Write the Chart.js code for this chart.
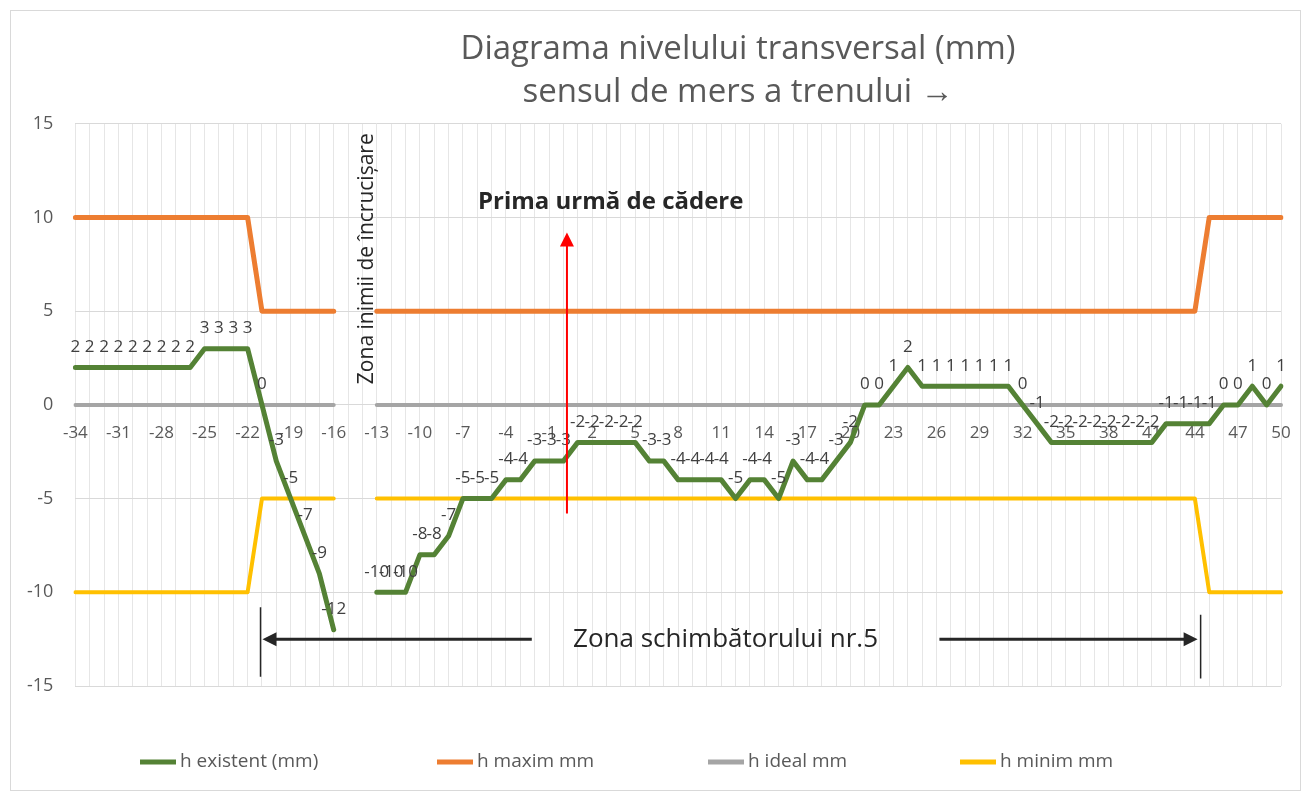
<!DOCTYPE html>
<html lang="ro">
<head>
    <meta charset="UTF-8">
    <title>Diagrama nivelului transversal</title>
    <script src="https://cdn.jsdelivr.net/npm/chart.js"></script>
    <style>
        body {
            margin: 0;
            background: #fff;
            font-family: 'Open Sans', sans-serif;
        }
        .chart-container {
            position: relative;
            width: 1309px;
            height: 795px;
        }
        .frame {
            position: absolute;
            left: 10px;
            top: 10px;
            width: 1289px;
            height: 779px;
            border: 1px solid #d9d9d9;
            pointer-events: none;
        }
    </style>
</head>
<body>
    <div class="chart-container">
        <canvas id="levelChart"></canvas>
        <div class="frame"></div>
    </div>

    <script>
        // distanta fata de punctul de referinta
        const categories = [
            -34, -33, -32, -31, -30, -29, -28, -27, -26, -25, -24, -23, -22, -21, -20, -19, -18, -17, -16, -15, -14,
            -13, -12, -11, -10, -9, -8, -7, -6, -5, -4, -3, -2, -1, 0, 1, 2, 3, 4, 5, 6, 7, 8, 9, 10,
            11, 12, 13, 14, 15, 16, 17, 18, 19, 20, 21, 22, 23, 24, 25, 26, 27, 28, 29, 30,
            31, 32, 33, 34, 35, 36, 37, 38, 39, 40, 41, 42, 43, 44, 45, 46, 47, 48, 49, 50
        ];

        const hExistent = [
            2, 2, 2, 2, 2, 2, 2, 2, 2, 3, 3, 3, 3, 0, -3, -5, -7, -9, -12, null, null,
            -10, -10, -10, -8, -8, -7, -5, -5, -5, -4, -4, -3, -3, -3, -2, -2, -2, -2, -2, -3, -3, -4, -4, -4,
            -4, -5, -4, -4, -5, -3, -4, -4, -3, -2, 0, 0, 1, 2, 1, 1, 1, 1, 1, 1,
            1, 0, -1, -2, -2, -2, -2, -2, -2, -2, -2, -1, -1, -1, -1, 0, 0, 1, 0, 1
        ];

        const hMaxim = [
            10, 10, 10, 10, 10, 10, 10, 10, 10, 10, 10, 10, 10, 5, 5, 5, 5, 5, 5, null, null,
            5, 5, 5, 5, 5, 5, 5, 5, 5, 5, 5, 5, 5, 5, 5, 5, 5, 5, 5, 5, 5, 5, 5, 5,
            5, 5, 5, 5, 5, 5, 5, 5, 5, 5, 5, 5, 5, 5, 5, 5, 5, 5, 5, 5,
            5, 5, 5, 5, 5, 5, 5, 5, 5, 5, 5, 5, 5, 5, 10, 10, 10, 10, 10, 10
        ];

        const hIdeal = [
            0, 0, 0, 0, 0, 0, 0, 0, 0, 0, 0, 0, 0, 0, 0, 0, 0, 0, 0, null, null,
            0, 0, 0, 0, 0, 0, 0, 0, 0, 0, 0, 0, 0, 0, 0, 0, 0, 0, 0, 0, 0, 0, 0, 0,
            0, 0, 0, 0, 0, 0, 0, 0, 0, 0, 0, 0, 0, 0, 0, 0, 0, 0, 0, 0,
            0, 0, 0, 0, 0, 0, 0, 0, 0, 0, 0, 0, 0, 0, 0, 0, 0, 0, 0, 0
        ];

        const hMinim = [
            -10, -10, -10, -10, -10, -10, -10, -10, -10, -10, -10, -10, -10, -5, -5, -5, -5, -5, -5, null, null,
            -5, -5, -5, -5, -5, -5, -5, -5, -5, -5, -5, -5, -5, -5, -5, -5, -5, -5, -5, -5, -5, -5, -5, -5,
            -5, -5, -5, -5, -5, -5, -5, -5, -5, -5, -5, -5, -5, -5, -5, -5, -5, -5, -5, -5,
            -5, -5, -5, -5, -5, -5, -5, -5, -5, -5, -5, -5, -5, -5, -10, -10, -10, -10, -10, -10
        ];

        const xTickLabels = [-34, -31, -28, -25, -22, -19, -16, -13, -10, -7, -4, -1, 2, 5, 8, 11, 14, 17, 20, 23, 26, 29, 32, 35, 38, 41, 44, 47, 50];
        const yTickLabels = [-15, -10, -5, 0, 5, 10, 15];

        const FONT = "'Open Sans', sans-serif";
        const idx = v => categories.indexOf(v);

        // etichetele valorilor pentru h existent
        const pointLabels = {
            id: 'pointLabels',
            afterDatasetsDraw(chart) {
                const ctx = chart.ctx;
                const meta = chart.getDatasetMeta(0);
                ctx.save();
                ctx.font = '17px ' + FONT;
                ctx.fillStyle = '#404040';
                ctx.textAlign = 'center';
                ctx.textBaseline = 'bottom';
                meta.data.forEach((pt, i) => {
                    if (hExistent[i] === null) return;
                    ctx.fillText(String(hExistent[i]), pt.x, pt.y - 12);
                });
                ctx.restore();
            }
        };

        function arrowHead(ctx, x, y, dir, size) {
            // dir: unghiul in radiani spre care arata varful
            ctx.beginPath();
            ctx.moveTo(x, y);
            ctx.lineTo(x - size * Math.cos(dir) + size * 0.5 * Math.sin(dir), y - size * Math.sin(dir) - size * 0.5 * Math.cos(dir));
            ctx.lineTo(x - size * Math.cos(dir) - size * 0.5 * Math.sin(dir), y - size * Math.sin(dir) + size * 0.5 * Math.cos(dir));
            ctx.closePath();
            ctx.fill();
        }

        // adnotari: sageti si texte
        const notes = {
            id: 'notes',
            afterDatasetsDraw(chart) {
                const ctx = chart.ctx;
                const xs = chart.scales.x, ys = chart.scales.y;
                const X = v => xs.getPixelForValue(v);
                const Y = v => ys.getPixelForValue(v);
                ctx.save();

                // prima urma de cadere
                const ax = X(idx(0) + 0.25);
                ctx.strokeStyle = '#ff0000';
                ctx.fillStyle = '#ff0000';
                ctx.lineWidth = 2;
                ctx.beginPath();
                ctx.moveTo(ax, Y(-5.8));
                ctx.lineTo(ax, Y(8.6));
                ctx.stroke();
                arrowHead(ctx, ax, Y(9.2), -Math.PI / 2, 14);

                ctx.fillStyle = '#262626';
                ctx.font = 'bold 24px ' + FONT;
                ctx.textAlign = 'center';
                ctx.textBaseline = 'middle';
                ctx.fillText('Prima urmă de cădere', X(idx(3) + 0.3), Y(10.8));

                // zona inimii
                ctx.save();
                ctx.translate(X(idx(-14) + 0.3), Y(7.8));
                ctx.rotate(-Math.PI / 2);
                ctx.font = '21px ' + FONT;
                ctx.fillText('Zona inimii de încrucișare', 0, 0);
                ctx.restore();

                // zona schimbatorului
                const yA = Y(-12.5);
                const left = X(idx(-21) - 0.1);
                const right = X(idx(44) + 0.4);
                ctx.strokeStyle = '#262626';
                ctx.fillStyle = '#262626';
                ctx.lineWidth = 1.5;
                ctx.beginPath();
                ctx.moveTo(left, Y(-10.8));
                ctx.lineTo(left, Y(-14.5));
                ctx.moveTo(right, Y(-11.2));
                ctx.lineTo(right, Y(-14.6));
                ctx.stroke();

                ctx.lineWidth = 3;
                ctx.beginPath();
                ctx.moveTo(X(idx(-3) + 0.8), yA);
                ctx.lineTo(left + 12, yA);
                ctx.moveTo(X(idx(26) + 0.2), yA);
                ctx.lineTo(right - 12, yA);
                ctx.stroke();
                arrowHead(ctx, left + 2, yA, Math.PI, 14);
                arrowHead(ctx, right - 3, yA, 0, 14);

                ctx.font = '26px ' + FONT;
                ctx.fillText('Zona schimbătorului nr.5', X(idx(11) + 0.3), yA);

                ctx.restore();
            }
        };

        // legenda desenata separat, pe sloturi ca in Excel
        const legendSlots = [140, 437, 708, 960];
        const legendRow = {
            id: 'legendRow',
            afterDraw(chart) {
                const ctx = chart.ctx;
                const y = chart.chartArea.bottom + 76;
                ctx.save();
                ctx.font = '19px ' + FONT;
                ctx.textBaseline = 'middle';
                ctx.textAlign = 'left';
                chart.data.datasets.forEach((ds, i) => {
                    const x0 = legendSlots[i];
                    ctx.strokeStyle = ds.borderColor;
                    ctx.lineWidth = 5;
                    ctx.beginPath();
                    ctx.moveTo(x0, y);
                    ctx.lineTo(x0 + 36, y);
                    ctx.stroke();
                    ctx.fillStyle = '#595959';
                    ctx.fillText(ds.label, x0 + 40, y);
                });
                ctx.restore();
            }
        };

        // titlul este centrat peste zona graficului, ca in original
        const titleShift = {
            id: 'titleShift',
            afterLayout(chart) {
                if (chart.titleBlock) {
                    chart.titleBlock.left += 95;
                    chart.titleBlock.right += 95;
                }
            }
        };

        const ctx = document.getElementById('levelChart').getContext('2d');
        new Chart(ctx, {
            type: 'line',
            data: {
                labels: categories,
                datasets: [
                    { label: 'h existent (mm)', data: hExistent, borderColor: '#548235', backgroundColor: '#548235', borderWidth: 5 },
                    { label: 'h maxim mm', data: hMaxim, borderColor: '#ed7d31', backgroundColor: '#ed7d31', borderWidth: 5 },
                    { label: 'h ideal mm', data: hIdeal, borderColor: '#a5a5a5', backgroundColor: '#a5a5a5', borderWidth: 4 },
                    { label: 'h minim mm', data: hMinim, borderColor: '#ffc000', backgroundColor: '#ffc000', borderWidth: 4 }
                ]
            },
            options: {
                responsive: true,
                maintainAspectRatio: false,
                animation: false,
                elements: {
                    point: { radius: 0, hoverRadius: 0 },
                    line: { tension: 0, borderJoinStyle: 'round', borderCapStyle: 'round' }
                },
                layout: { padding: { left: 5, right: 28, top: 0, bottom: 109 } },
                plugins: {
                    title: {
                        display: true,
                        text: ['Diagrama nivelului transversal (mm)', 'sensul de mers a trenului →'],
                        color: '#595959',
                        font: { family: FONT, size: 33, weight: 'normal', lineHeight: 1.3 },
                        padding: { top: 28, bottom: 10 }
                    },
                    legend: { display: false },
                    tooltip: { enabled: false }
                },
                scales: {
                    x: {
                        position: { y: 0 },
                        grid: { color: '#e6e6e6', drawTicks: false },
                        border: { display: false },
                        ticks: {
                            autoSkip: false,
                            maxRotation: 0,
                            padding: 18,
                            color: '#595959',
                            font: { family: FONT, size: 17 },
                            callback: (val, i) => xTickLabels.includes(categories[i]) ? String(categories[i]) : ''
                        }
                    },
                    y: {
                        min: -15,
                        max: 15,
                        afterBuildTicks: axis => { axis.ticks = yTickLabels.map(v => ({ value: v })); },
                        grid: { color: '#d9d9d9', drawTicks: false },
                        border: { display: false },
                        ticks: {
                            padding: 22,
                            color: '#595959',
                            font: { family: FONT, size: 18 }
                        }
                    }
                }
            },
            plugins: [pointLabels, notes, legendRow, titleShift]
        });
    </script>
</body>
</html>
